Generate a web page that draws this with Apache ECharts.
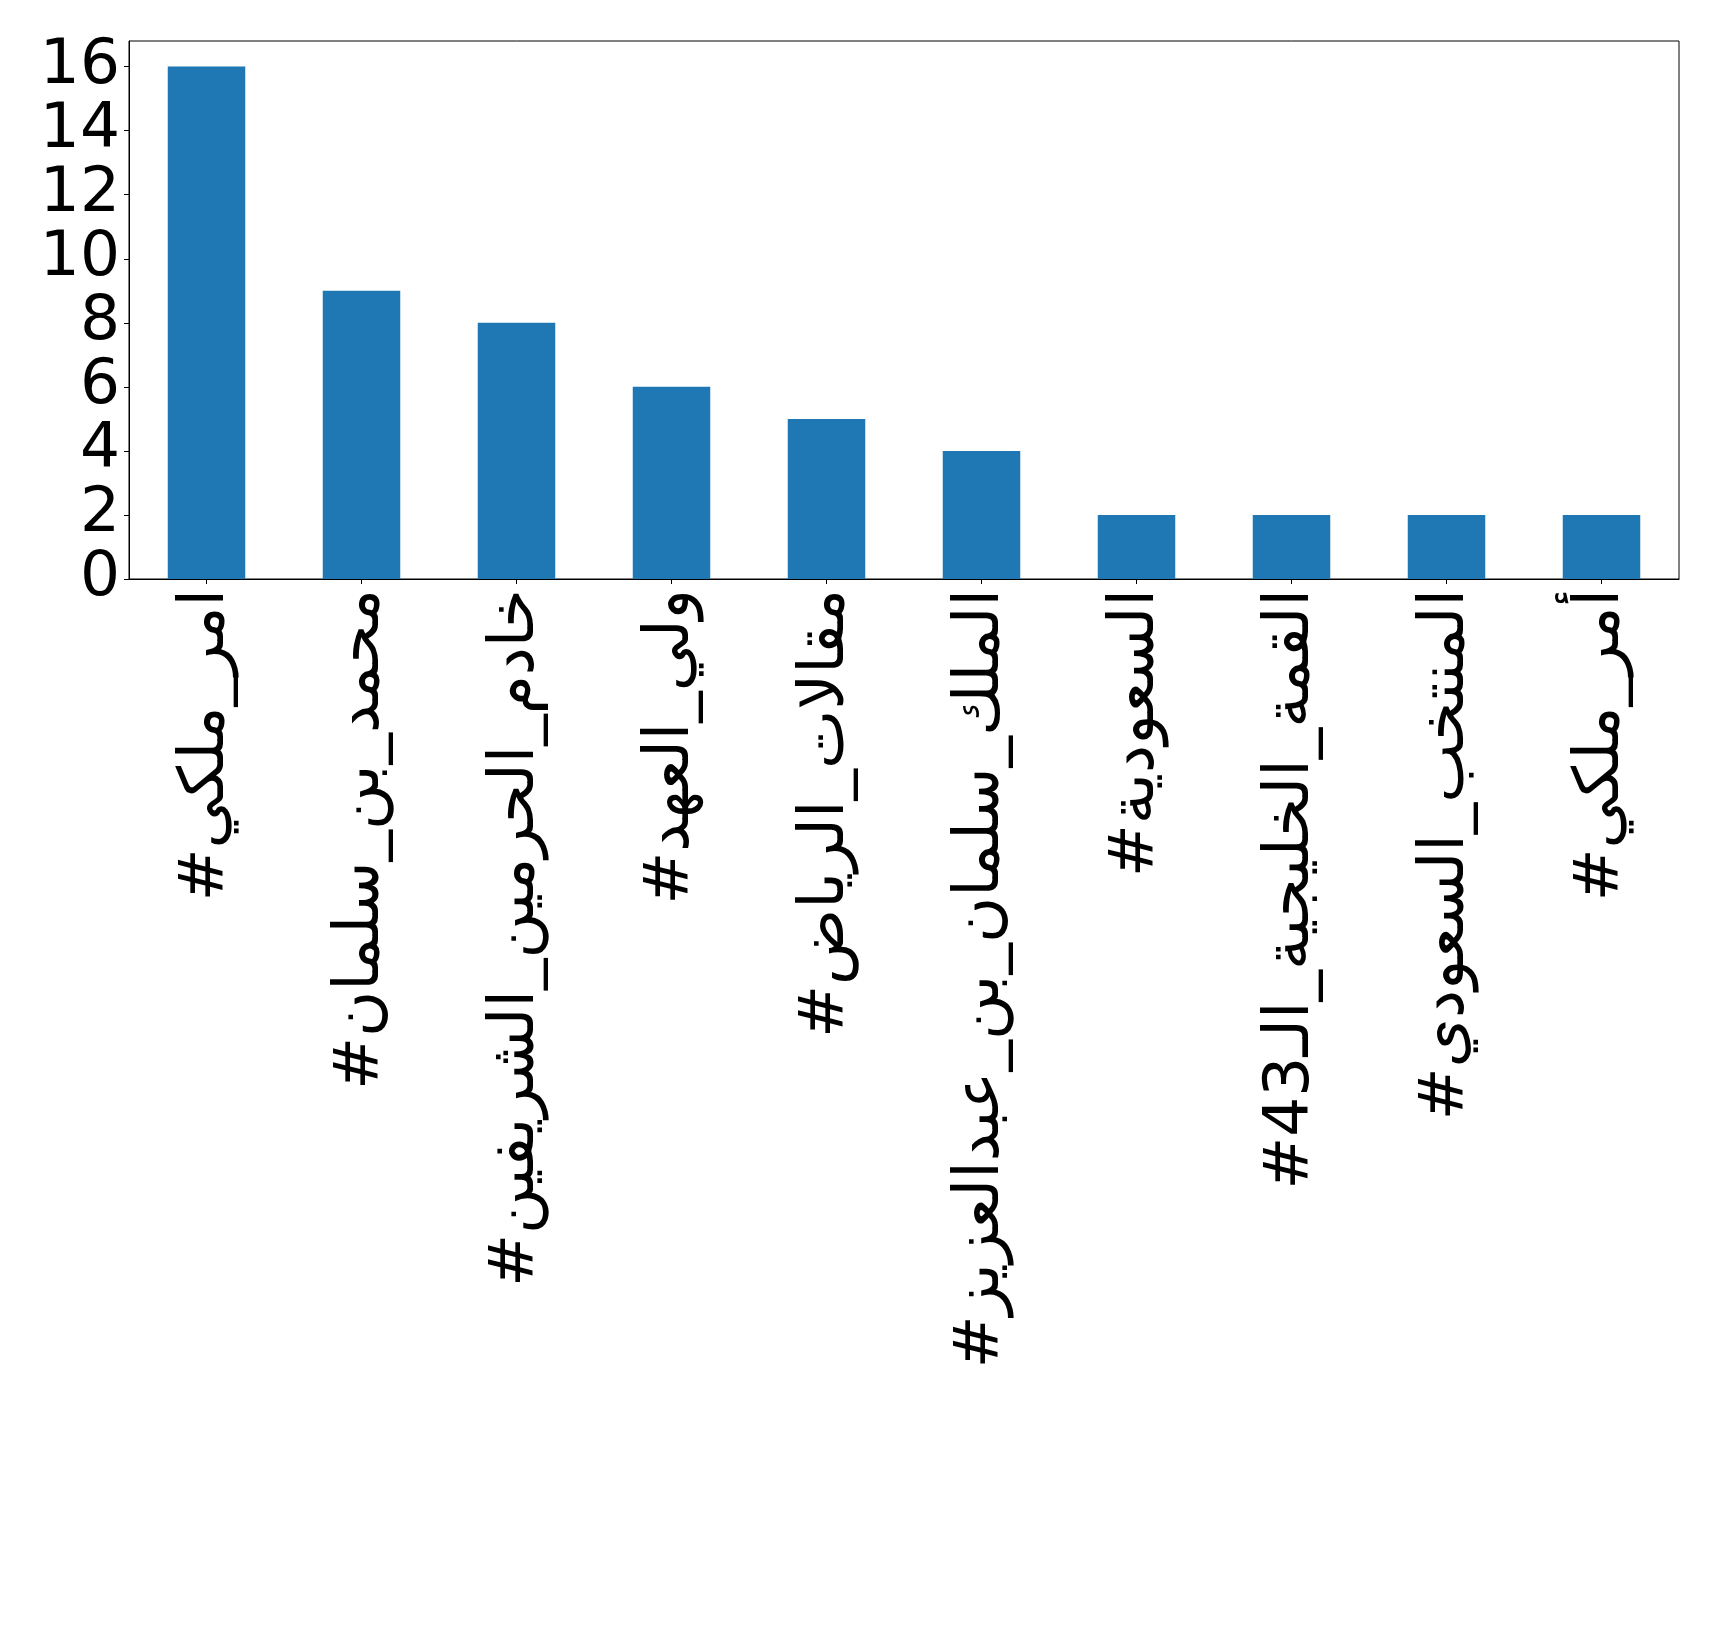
<!DOCTYPE html>
<html>
<head>
<meta charset="utf-8">
<script src="https://cdn.jsdelivr.net/npm/echarts@6/dist/echarts.min.js"></script>
<style>
  html, body { margin: 0; padding: 0; background: #fff; }
  #chart { width: 1719px; height: 1635px; }
</style>
</head>
<body>
<div id="chart"></div>
<script>
// Hashtag counts
const hashtags = [
  '#امر_ملكي',
  '#محمد_بن_سلمان',
  '#خادم_الحرمين_الشريفين',
  '#ولي_العهد',
  '#مقالات_الرياض',
  '#الملك_سلمان_بن_عبدالعزيز',
  '#السعودية',
  '#القمة_الخليجية_الـ43',
  '#المنتخب_السعودي',
  '#أمر_ملكي'
];
const counts = [16, 9, 8, 6, 5, 4, 2, 2, 2, 2];
const yTicks = [0, 2, 4, 6, 8, 10, 12, 14, 16];

const font = 'DejaVu Sans';
const yMin = 0, yMax = 16.8;

// The large tick labels sit closer than their text boxes, so they are split
// over two overlaid axes (alternate ticks) to keep every label visible.
const labelsA = yTicks.filter((_, i) => i % 2 === 0);
const labelsB = yTicks.filter((_, i) => i % 2 === 1);

function labelAxis(values, showLine) {
  return {
    type: 'value',
    position: 'left',
    offset: 0,
    min: yMin, max: yMax,
    axisLine: { show: showLine, lineStyle: { color: '#000', width: 1 } },
    axisTick: { show: showLine, length: 5, customValues: yTicks, lineStyle: { color: '#000', width: 1 } },
    axisLabel: {
      customValues: values, margin: 9,
      showMinLabel: true, showMaxLabel: true, hideOverlap: false,
      color: '#000', fontFamily: font, fontSize: 63
    },
    splitLine: { show: false }
  };
}

const chart = echarts.init(document.getElementById('chart'), null, { renderer: 'canvas' });

chart.setOption({
  animation: false,
  backgroundColor: '#fff',
  grid: {
    left: 129, right: 40, top: 41, bottom: 1056,
    show: true, borderColor: '#000', borderWidth: 1, backgroundColor: 'transparent'
  },
  xAxis: {
    type: 'category',
    data: hashtags,
    boundaryGap: true,
    axisLine: { show: true, lineStyle: { color: '#000', width: 1 } },
    axisTick: { show: true, alignWithLabel: true, length: 5, lineStyle: { color: '#000', width: 1 } },
    axisLabel: {
      rotate: 90, interval: 0, margin: 10,
      color: '#000', fontFamily: font, fontSize: 63
    },
    splitLine: { show: false }
  },
  yAxis: [labelAxis(labelsA, true), labelAxis(labelsB, false)],
  series: [{
    type: 'bar',
    yAxisIndex: 0,
    data: counts,
    barWidth: '50%',
    itemStyle: { color: '#1f77b4' }
  }]
});
</script>
</body>
</html>
